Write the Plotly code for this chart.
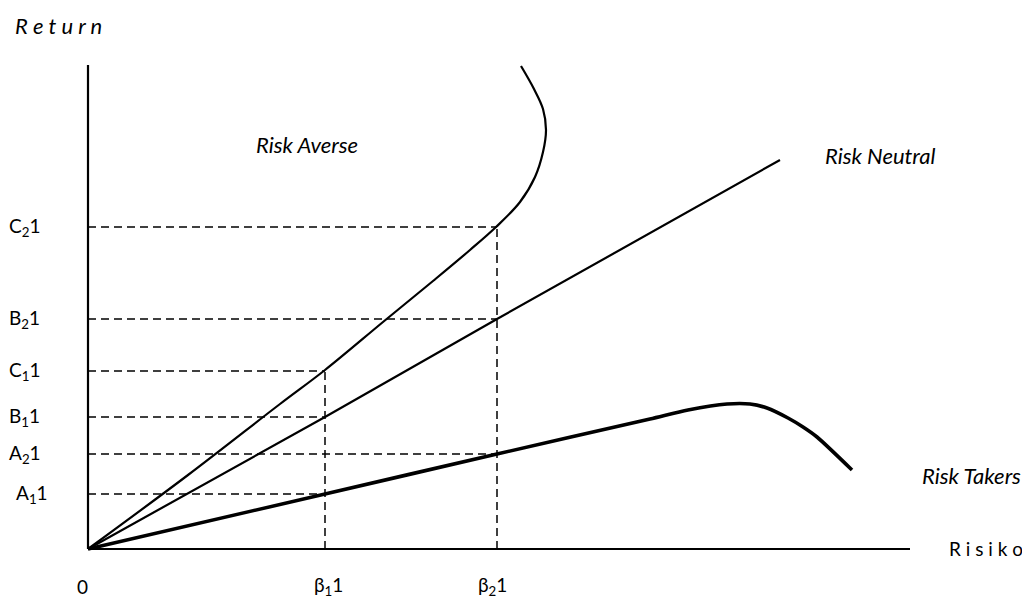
import plotly.graph_objects as go

# Logical coordinates: origin at the axes' crossing, x = risk, y = return
return_labels = ["C<sub>2</sub>1", "B<sub>2</sub>1", "C<sub>1</sub>1", "B<sub>1</sub>1", "A<sub>2</sub>1", "A<sub>1</sub>1"]
return_levels = [322, 230, 178, 132, 95, 55]
return_ends = [409, 409, 237, 237, 409, 237]   # where each dashed guide meets its curve
return_label_x = [-64, -64, -64, -64, -63, -56]

beta_labels = ["0", "β<sub>1</sub>1", "β<sub>2</sub>1"]
beta_values = [0, 237, 409]
beta_tops = [0, 178, 322]
beta_label_x = [-6, 240, 404]

axis_x_end = 822
axis_y_end = 484

averse_x = [0, 100, 192, 237, 295, 345, 382, 408, 432, 447, 455, 458, 455, 446, 433]
averse_y = [0, 74, 145, 179, 227, 268, 299, 322, 347, 372, 397, 419, 440, 460, 483]

neutral_x = [0, 237, 409, 692]
neutral_y = [0, 132, 230, 389]

takers_x = [0, 237, 409, 562, 600, 639, 662, 679, 700, 715, 729, 764]
takers_y = [0, 55, 95, 130, 139, 145, 145, 141, 131, 122, 112, 79]

FONT = "Lato"
fig = go.Figure()

# dashed guides
for lvl, end in zip(return_levels, return_ends):
    fig.add_trace(go.Scatter(x=[0, end], y=[lvl, lvl], mode="lines",
                             line=dict(color="black", width=1.5, dash="8px,5px"), hoverinfo="skip"))
for b, top in zip(beta_values[1:], beta_tops[1:]):
    fig.add_trace(go.Scatter(x=[b, b], y=[0, top], mode="lines",
                             line=dict(color="black", width=1.5, dash="8px,5px"), hoverinfo="skip"))

# axes
fig.add_trace(go.Scatter(x=[0, 0], y=[0, axis_y_end], mode="lines", line=dict(color="black", width=2.2)))
fig.add_trace(go.Scatter(x=[0, axis_x_end], y=[0, 0], mode="lines", line=dict(color="black", width=2.2)))

# curves
fig.add_trace(go.Scatter(x=averse_x, y=averse_y, mode="lines",
                         line=dict(color="black", width=2.2, shape="spline", smoothing=1.0)))
fig.add_trace(go.Scatter(x=neutral_x, y=neutral_y, mode="lines", line=dict(color="black", width=2.2)))
fig.add_trace(go.Scatter(x=takers_x, y=takers_y, mode="lines",
                         line=dict(color="black", width=3.6, shape="spline", smoothing=0.7)))

ann = []
for t, y, x in zip(return_labels, return_levels, return_label_x):
    ann.append(dict(x=x, y=y, text=t, showarrow=False, font=dict(size=19, family=FONT, color="black")))
for t, x in zip(beta_labels, beta_label_x):
    ann.append(dict(x=x, y=-37, text=t, showarrow=False, font=dict(size=19, family=FONT, color="black")))

ann.append(dict(x=-30, y=524, text="<i>R e t u r n</i>", showarrow=False, font=dict(size=22, family=FONT, color="black")))
ann.append(dict(x=219, y=405, text="<i>Risk Averse</i>", showarrow=False, font=dict(size=22, family=FONT, color="black")))
ann.append(dict(x=792, y=394, text="<i>Risk Neutral</i>", showarrow=False, font=dict(size=22, family=FONT, color="black")))
ann.append(dict(x=883, y=74, text="<i>Risk Takers</i>", showarrow=False, font=dict(size=22, family=FONT, color="black")))
ann.append(dict(x=898, y=1, text="R i s i k o", showarrow=False, font=dict(size=19, family=FONT, color="black")))

# The page body has an 8px margin, so the figure is 8px smaller and ranges shifted accordingly
fig.update_layout(
    width=1022, height=591,
    margin=dict(l=0, r=0, t=0, b=0),
    paper_bgcolor="white", plot_bgcolor="white",
    showlegend=False,
    xaxis=dict(range=[-80, 942], visible=False, fixedrange=True),
    yaxis=dict(range=[-50, 541], visible=False, fixedrange=True),
    annotations=ann,
)
fig.write_html("out.html")
